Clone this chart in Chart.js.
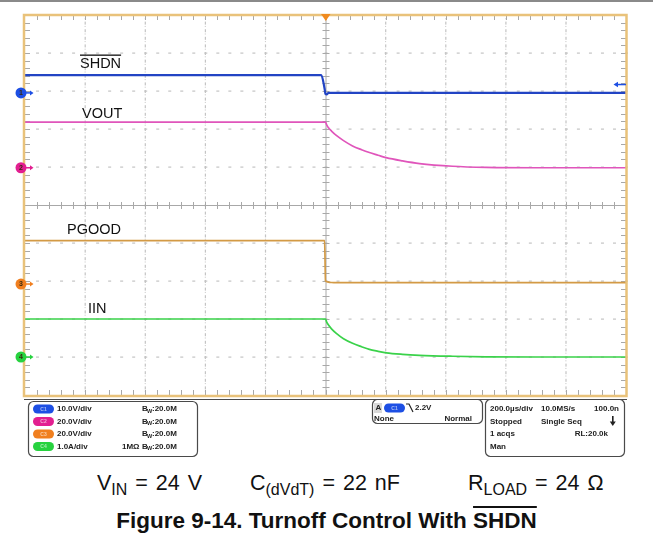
<!DOCTYPE html>
<html>
<head>
<meta charset="utf-8">
<script src="https://cdn.jsdelivr.net/npm/chart.js@4.4.1/dist/chart.umd.min.js"></script>
<style>
  html, body { margin: 0; padding: 0; background: #fff; }
  #wrap { position: relative; width: 653px; height: 547px; overflow: hidden; font-family: "Liberation Sans", Arial, sans-serif; }
  #scope { position: absolute; left: 0; top: 0; }
  .cond { position: absolute; top: 471px; font-size: 21.5px; color: #111; white-space: nowrap; word-spacing: 2px; }
  .cond sub { font-size: 16px; vertical-align: -5px; line-height: 0; }
  #title { position: absolute; top: 508px; left: 0; width: 653px; text-align: center; font-weight: bold; font-size: 22.5px; color: #111; white-space: nowrap; }
  .ovl { text-decoration: overline; }
</style>
</head>
<body>
<div id="wrap">
  <canvas id="scope" width="653" height="460"></canvas>
  <div class="cond" style="left:97px">V<sub>IN</sub> = 24 V</div>
  <div class="cond" style="left:250px">C<sub>(dVdT)</sub> = 22 nF</div>
  <div class="cond" style="left:468px">R<sub>LOAD</sub> = 24 Ω</div>
  <div id="title">Figure 9-14. Turnoff Control With <span class="ovl">SHDN</span></div>
</div>
<script>
// Capture: 200 µs/div, trigger on C1 falling edge at t = 0
const timeUs = [-1000, -14, -3, 0, 4, 10, 20, 36, 60, 90, 120, 146, 175, 202, 256, 313, 423, 535, 700, 1000];

// Channel readings (V or A) at each time point
const shdnV  = [4.7, 4.7, 1.1, -0.3, -0.4, 0, 0, 0, 0, 0, 0, 0, 0, 0, 0, 0, 0, 0, 0, 0];
const voutV  = [24, 24, 24, 24, 22.6, 21, 19.3, 17, 14.3, 11.5, 9.5, 8.0, 6.6, 5.3, 3.6, 2.2, 0.8, 0.2, 0, 0];
const pgoodV = [22.8, 22.8, 22.8, 1.8, 1.3, 1.0, 0.8, 0.7, 0.7, 0.7, 0.7, 0.7, 0.7, 0.7, 0.7, 0.7, 0.7, 0.7, 0.7, 0.7];
const iinA   = [1, 1, 1, 1, 0.92, 0.84, 0.74, 0.62, 0.48, 0.36, 0.27, 0.2, 0.15, 0.11, 0.07, 0.045, 0.02, 0.005, 0, 0];

// Channel names, vertical scale and ground reference (divisions from screen centre)
const channelNames = ['SHDN', 'VOUT', 'PGOOD', 'IIN'];
const unitsPerDiv  = [10, 20, 20, 1];
const groundDiv    = [2.95, 0.98, -2.08, -4.0];
const channelColors = ['#2244c4', '#e055bb', '#d39a45', '#3ad24a'];
const markerColors  = ['#1d4fe4', '#e21f90', '#f07f1f', '#27d23f'];
const triggerLevelV = 2.2;

const series = [shdnV, voutV, pgoodV, iinA];

function toDiv(ch, v) { return groundDiv[ch] + v / unitsPerDiv[ch]; }

const datasets = series.map((vals, ch) => ({
  label: channelNames[ch],
  data: timeUs.map((t, i) => ({ x: t, y: toDiv(ch, vals[i]) })),
  borderColor: channelColors[ch],
  borderWidth: ch === 0 ? 2.2 : 1.7,
  pointRadius: 0,
  cubicInterpolationMode: 'monotone',
  fill: false
}));

const PANEL_FONT = 'bold 8px "Liberation Sans", Arial';

// Graticule: dotted divisions, centre cross with minor ticks, border ticks
const graticule = {
  id: 'graticule',
  beforeDatasetsDraw(chart) {
    const { ctx, chartArea: a, scales: { x, y } } = chart;
    ctx.save();
    const dx = (a.right - a.left) / 10, dy = (a.bottom - a.top) / 10;
    ctx.fillStyle = '#c4c4c4';
    for (let d = -4; d <= 4; d++) {
      if (d === 0) continue;
      const py = y.getPixelForValue(d);
      for (let px = a.left + dx / 5; px < a.right; px += dx / 5) {
        ctx.fillRect(px - 1, py - 0.5, 3, 1.2);
      }
      const pxv = x.getPixelForValue(d * 200);
      for (let py2 = a.top + dy / 5; py2 < a.bottom; py2 += dy / 5) {
        ctx.fillRect(pxv - 0.5, py2 - 1, 1.2, 3);
      }
      for (let py2 = a.top + dy / 10; py2 < a.bottom; py2 += dy / 5) {
        ctx.fillRect(pxv - 0.5, py2 - 0.5, 1, 1);
      }
    }
    // centre cross
    const cx = x.getPixelForValue(0), cy = y.getPixelForValue(0);
    ctx.strokeStyle = '#b4b4b4';
    ctx.lineWidth = 1;
    ctx.beginPath();
    ctx.moveTo(a.left, cy + 0.5); ctx.lineTo(a.right, cy + 0.5);
    ctx.moveTo(cx + 0.5, a.top); ctx.lineTo(cx + 0.5, a.bottom);
    for (let px = a.left + dx / 5; px < a.right - 1; px += dx / 5) {
      ctx.moveTo(Math.round(px) + 0.5, cy - 3); ctx.lineTo(Math.round(px) + 0.5, cy + 4);
    }
    for (let py = a.top + dy / 5; py < a.bottom - 1; py += dy / 5) {
      ctx.moveTo(cx - 3, Math.round(py) + 0.5); ctx.lineTo(cx + 4, Math.round(py) + 0.5);
    }
    // border ticks
    ctx.strokeStyle = '#a8a8a8';
    for (let px = a.left + dx / 5; px < a.right - 1; px += dx / 5) {
      const rx = Math.round(px) + 0.5;
      ctx.moveTo(rx, a.top); ctx.lineTo(rx, a.top + 5);
      ctx.moveTo(rx, a.bottom); ctx.lineTo(rx, a.bottom - 5);
    }
    for (let py = a.top + dy / 5; py < a.bottom - 1; py += dy / 5) {
      const ry = Math.round(py) + 0.5;
      ctx.moveTo(a.left, ry); ctx.lineTo(a.left + 5, ry);
      ctx.moveTo(a.right, ry); ctx.lineTo(a.right - 5, ry);
    }
    ctx.stroke();
    ctx.restore();
  },
  afterDraw(chart) {
    const { ctx, chartArea: a, scales: { x, y } } = chart;
    ctx.save();
    // top rule of the page
    ctx.fillStyle = '#8a8a8a';
    ctx.fillRect(0, 0, 653, 2);
    // frame
    ctx.strokeStyle = '#e9c27a';
    ctx.lineWidth = 2.5;
    ctx.strokeRect(a.left - 1, a.top, a.right - a.left + 1.5, a.bottom - a.top + 1);
    // trigger position marker
    const cx = x.getPixelForValue(0);
    ctx.fillStyle = '#f08a1e';
    ctx.beginPath();
    ctx.moveTo(cx - 4.5, a.top - 1); ctx.lineTo(cx + 5, a.top - 1); ctx.lineTo(cx + 0.3, a.top + 6);
    ctx.closePath(); ctx.fill();
    // channel ground markers
    groundDiv.forEach((g, ch) => {
      const py = y.getPixelForValue(g);
      ctx.fillStyle = markerColors[ch];
      ctx.beginPath(); ctx.arc(21, py, 5.5, 0, Math.PI * 2); ctx.fill();
      ctx.strokeStyle = markerColors[ch]; ctx.lineWidth = 1.5;
      ctx.beginPath(); ctx.moveTo(26, py); ctx.lineTo(32, py); ctx.stroke();
      ctx.beginPath(); ctx.moveTo(33.5, py); ctx.lineTo(30, py - 2.5); ctx.lineTo(30, py + 2.5); ctx.closePath(); ctx.fill();
      ctx.fillStyle = '#3a2a10';
      ctx.font = 'bold 7px "Liberation Sans", Arial';
      ctx.textAlign = 'center'; ctx.textBaseline = 'middle';
      ctx.fillText(String(ch + 1), 21, py + 0.5);
    });
    // trigger level arrow (C1)
    const ty = y.getPixelForValue(toDiv(0, triggerLevelV));
    ctx.strokeStyle = markerColors[0]; ctx.fillStyle = markerColors[0]; ctx.lineWidth = 1.5;
    ctx.beginPath(); ctx.moveTo(626, ty); ctx.lineTo(617, ty); ctx.stroke();
    ctx.beginPath(); ctx.moveTo(613.5, ty); ctx.lineTo(618, ty - 2.8); ctx.lineTo(618, ty + 2.8); ctx.closePath(); ctx.fill();

    // trace labels
    ctx.fillStyle = '#111';
    ctx.font = '14.5px "Liberation Sans", Arial';
    ctx.textAlign = 'left'; ctx.textBaseline = 'middle';
    const labels = [['SHDN', 80, 63.5], ['VOUT', 82, 114], ['PGOOD', 67, 230], ['IIN', 88, 309]];
    labels.forEach(([t, lx, ly]) => ctx.fillText(t, lx, ly));
    const w = ctx.measureText('SHDN').width;
    ctx.fillRect(80, 54.5, w, 1.3);

    // status panel
    ctx.strokeStyle = '#4a4a4a'; ctx.lineWidth = 1.2;
    ctx.beginPath(); ctx.moveTo(a.left - 1, 399.5); ctx.lineTo(a.right + 1, 399.5); ctx.stroke();
    const box = (bx, by, bw, bh) => { ctx.beginPath(); ctx.roundRect(bx + 0.5, by + 0.5, bw, bh, 5); ctx.stroke(); };
    box(28, 401, 169, 55);
    box(372, 399, 110, 24);
    box(485, 399, 139, 57);

    const pill = (px, py, col, txt) => {
      ctx.save();
      ctx.fillStyle = col;
      ctx.beginPath(); ctx.roundRect(px, py - 4.5, 21, 9, 4.5); ctx.fill();
      ctx.fillStyle = 'rgba(255,255,255,0.6)';
      ctx.font = 'bold 5px "Liberation Sans", Arial';
      ctx.textAlign = 'center';
      ctx.fillText(txt, px + 10.5, py + 0.5);
      ctx.restore();
    };
    const rows = [409, 421.5, 434, 446.5];
    const perDiv = ['10.0V/div', '20.0V/div', '20.0V/div', '1.0A/div'];
    ctx.textBaseline = 'middle';
    rows.forEach((ry, i) => {
      pill(33, ry, markerColors[i], 'C' + (i + 1));
      ctx.fillStyle = '#222';
      ctx.font = PANEL_FONT;
      ctx.textAlign = 'left';
      ctx.fillText(perDiv[i], 57, ry);
      ctx.fillText('B', 142, ry);
      ctx.font = 'bold 5.5px "Liberation Sans", Arial';
      ctx.fillText('W', 147, ry + 2);
      ctx.font = PANEL_FONT;
      ctx.fillText(':20.0M', 152, ry);
    });
    ctx.fillText('1MΩ', 122, rows[3]);

    // trigger box
    ctx.fillStyle = '#d8d8d8'; ctx.fillRect(374, 403, 8, 10);
    ctx.fillStyle = '#222'; ctx.textAlign = 'left'; ctx.font = PANEL_FONT;
    ctx.fillText('A', 375.5, 408);
    pill(384, 408, markerColors[0], 'C1');
    ctx.strokeStyle = '#222'; ctx.lineWidth = 1.2;
    ctx.beginPath(); ctx.moveTo(406, 404); ctx.lineTo(409, 404); ctx.lineTo(413, 412); ctx.stroke();
    ctx.fillStyle = '#222';
    ctx.font = PANEL_FONT; ctx.textAlign = 'left';
    ctx.fillText('2.2V', 415, 408);
    ctx.fillText('None', 374, 419);
    ctx.textAlign = 'right';
    ctx.fillText('Normal', 472, 419);

    // acquisition box
    ctx.textAlign = 'left';
    ctx.fillText('200.0µs/div', 490, 409);
    ctx.fillText('10.0MS/s', 541, 409);
    ctx.fillText('Stopped', 490, 421.5);
    ctx.fillText('Single Seq', 541, 421.5);
    ctx.fillText('1 acqs', 490, 434);
    ctx.fillText('Man', 490, 446.5);
    ctx.textAlign = 'right';
    ctx.fillText('100.0n', 619, 409);
    ctx.fillText('RL:20.0k', 608, 434);
    // single-sequence arrow
    ctx.fillRect(612, 416, 1.6, 7);
    ctx.beginPath(); ctx.moveTo(609.8, 421.5); ctx.lineTo(615.8, 421.5); ctx.lineTo(612.8, 426); ctx.closePath(); ctx.fill();
    ctx.restore();
  }
};

new Chart(document.getElementById('scope'), {
  type: 'line',
  data: { datasets },
  options: {
    responsive: false,
    animation: false,
    devicePixelRatio: 1,
    layout: { padding: { left: 25, top: 15, right: 27, bottom: 65 } },
    plugins: { legend: { display: false }, tooltip: { enabled: false } },
    scales: {
      x: { type: 'linear', min: -1000, max: 1000, display: false },
      y: { type: 'linear', min: -5, max: 5, display: false }
    }
  },
  plugins: [graticule]
});
</script>
</body>
</html>
